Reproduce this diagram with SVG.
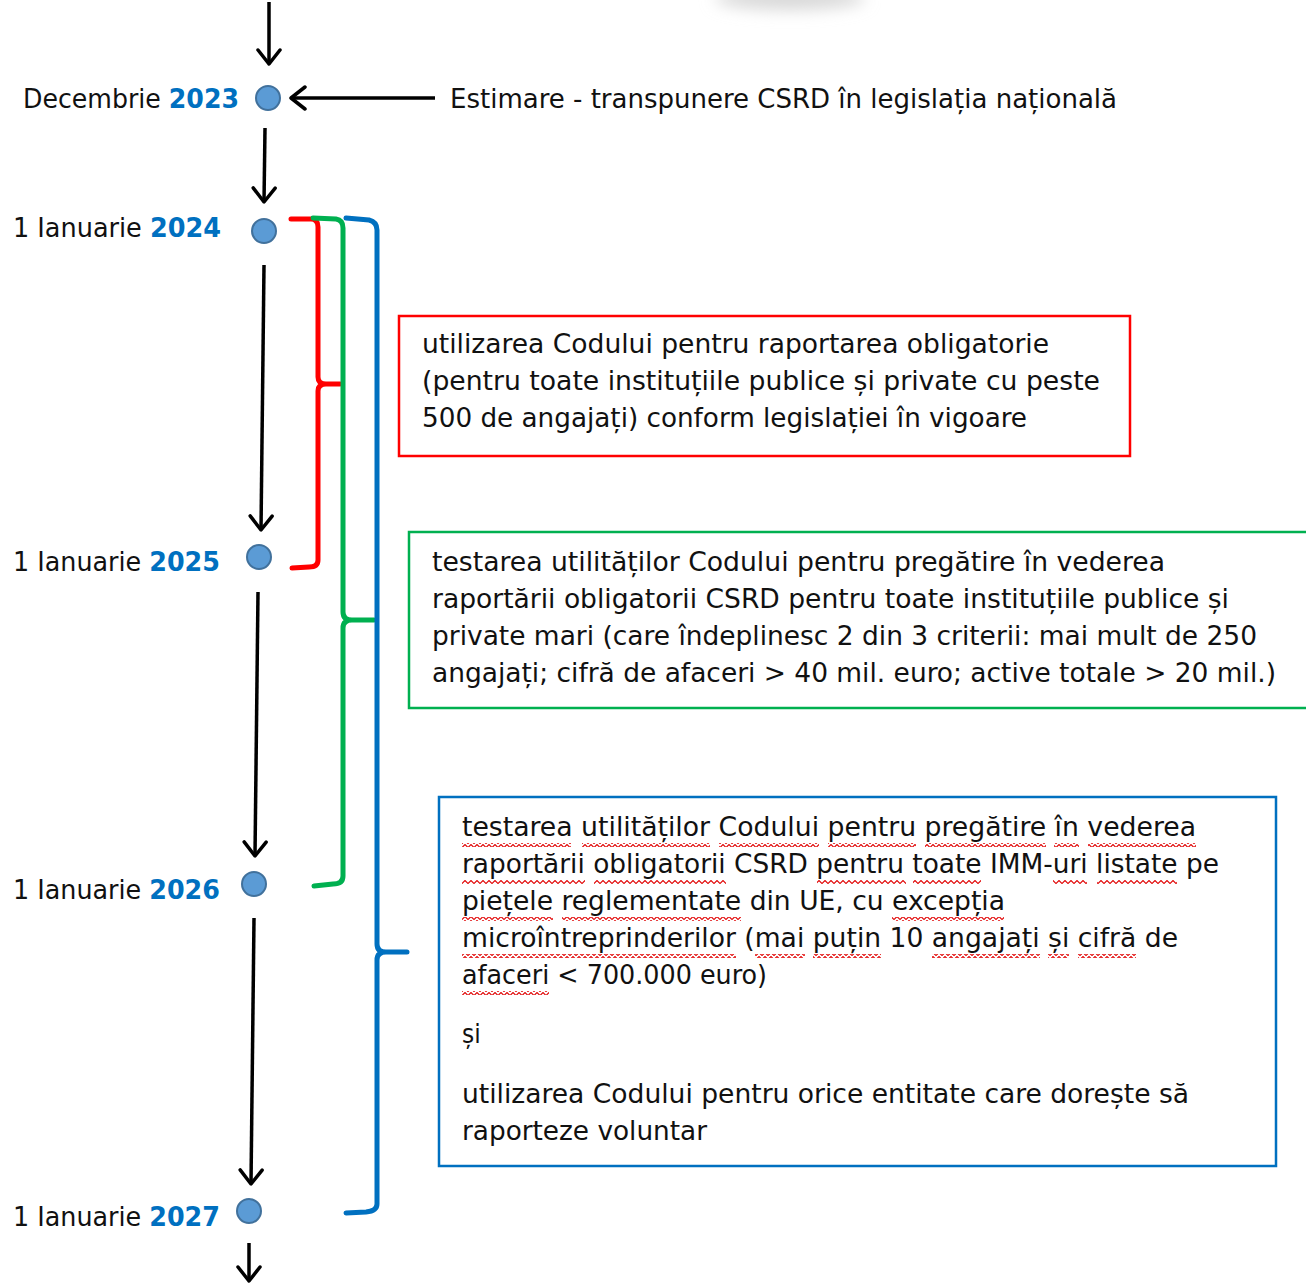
<svg xmlns="http://www.w3.org/2000/svg" width="1306" height="1284" viewBox="0 0 1306 1284">
<style>
text{font-family:"DejaVu Sans Condensed","DejaVu Sans",Tahoma,sans-serif;font-size:26px;fill:#111}
.y{fill:#0070c0;font-weight:bold}
.ar{fill:none;stroke:#000;stroke-width:3.5;marker-end:url(#ah)}
.dot{fill:#5b9bd5;stroke:#41719c;stroke-width:2}
.br{fill:none;stroke-width:5;stroke-linecap:round;stroke-linejoin:round}
.sq{fill:url(#wave)}
</style>
<defs>
<marker id="ah" markerUnits="userSpaceOnUse" markerWidth="30" markerHeight="30" refX="16" refY="12" orient="auto" viewBox="0 0 30 24">
<polyline points="2,1 16,12 2,23" fill="none" stroke="#000" stroke-width="3.5" stroke-linecap="round" stroke-linejoin="round"/>
</marker>
<pattern id="wave" patternUnits="userSpaceOnUse" x="0" y="0" width="6" height="4">
<path d="M-3,0.5 L0,3.5 L3,0.5 L6,3.5 L9,0.5" fill="none" stroke="#e00000" stroke-width="1.1"/>
</pattern>
<filter id="blur" x="-50%" y="-200%" width="200%" height="500%"><feGaussianBlur stdDeviation="8"/></filter>
</defs>
<rect width="1306" height="1284" fill="#fff"/>
<ellipse cx="790" cy="-2" rx="75" ry="12" fill="#d8d8d8" filter="url(#blur)"/>

<g id="connectors">
<path class="ar" d="M269,2 L269,64"/>
<path class="ar" d="M435,98 L291,98"/>
<path class="ar" d="M265,128 L264,202"/>
<path class="ar" d="M264,265 L261,530"/>
<path class="ar" d="M258,592 L255,856"/>
<path class="ar" d="M254,918 L251,1184"/>
<path class="ar" d="M249,1243 L249,1281"/>
<path class="br" stroke="#ff0000" d="M291,219 L311,219 Q318,219 318,227 L318,377 Q318,384 326,384 L340,384 M326,384 Q318,384 318,391 L318,560 Q318,567 309,567 L292,568"/>
<path class="br" stroke="#00b050" d="M313,218 L336,219 Q343,220 343,228 L343,612 Q343,620 352,620 L374,620 M352,620 Q343,620 343,628 L343,876 Q343,884 333,884 L314,886"/>
<path class="br" stroke="#0070c0" d="M346,218 L369,220 Q377,222 377,230 L377,944 Q377,952 386,952 L407,952 M386,952 Q377,952 377,960 L377,1204 Q377,1211 366,1212 L346,1213"/>
</g>

<g id="n2023">
<circle class="dot" cx="268" cy="98" r="12"/>
<text x="23" y="108" textLength="216" lengthAdjust="spacingAndGlyphs">Decembrie <tspan class="y">2023</tspan></text>
</g>
<g id="estimare">
<text x="450" y="108" textLength="667" lengthAdjust="spacingAndGlyphs">Estimare - transpunere CSRD în legislația națională</text>
</g>
<g id="n2024">
<circle class="dot" cx="264" cy="231" r="12"/>
<text x="13" y="237" textLength="208" lengthAdjust="spacingAndGlyphs">1 Ianuarie <tspan class="y">2024</tspan></text>
</g>
<g id="n2025">
<circle class="dot" cx="259" cy="557" r="12"/>
<text x="13" y="571" textLength="207" lengthAdjust="spacingAndGlyphs">1 Ianuarie <tspan class="y">2025</tspan></text>
</g>
<g id="n2026">
<circle class="dot" cx="254" cy="884" r="12"/>
<text x="13" y="899" textLength="207" lengthAdjust="spacingAndGlyphs">1 Ianuarie <tspan class="y">2026</tspan></text>
</g>
<g id="n2027">
<circle class="dot" cx="249" cy="1211" r="12"/>
<text x="13" y="1226" textLength="207" lengthAdjust="spacingAndGlyphs">1 Ianuarie <tspan class="y">2027</tspan></text>
</g>

<g id="box-red">
<rect x="399" y="316" width="731" height="140" fill="#fff" stroke="#ff0000" stroke-width="2.5"/>
<text x="422" y="353" textLength="627" lengthAdjust="spacingAndGlyphs">utilizarea Codului pentru raportarea obligatorie</text>
<text x="422" y="390" textLength="678" lengthAdjust="spacingAndGlyphs">(pentru toate instituțiile publice și private cu peste</text>
<text x="422" y="427" textLength="605" lengthAdjust="spacingAndGlyphs">500 de angajați) conform legislației în vigoare</text>
</g>

<g id="box-green">
<rect x="409" y="532" width="905" height="176" fill="#fff" stroke="#00b050" stroke-width="2.5"/>
<text x="432" y="571" textLength="733" lengthAdjust="spacingAndGlyphs">testarea utilităților Codului pentru pregătire în vederea</text>
<text x="432" y="608" textLength="797" lengthAdjust="spacingAndGlyphs">raportării obligatorii CSRD pentru toate instituțiile publice și</text>
<text x="432" y="645" textLength="825" lengthAdjust="spacingAndGlyphs">private mari (care îndeplinesc 2 din 3 criterii: mai mult de 250</text>
<text x="432" y="682" textLength="844" lengthAdjust="spacingAndGlyphs">angajați; cifră de afaceri &gt; 40 mil. euro; active totale &gt; 20 mil.)</text>
</g>

<g id="box-blue">
<rect x="439" y="797" width="837" height="369" fill="#fff" stroke="#0070c0" stroke-width="2.5"/>
<text x="462" y="836" textLength="734" lengthAdjust="spacingAndGlyphs">testarea utilităților Codului pentru pregătire în vederea</text>
<text x="462" y="873" textLength="757" lengthAdjust="spacingAndGlyphs">raportării obligatorii CSRD pentru toate IMM-uri listate pe</text>
<text x="462" y="910" textLength="543" lengthAdjust="spacingAndGlyphs">piețele reglementate din UE, cu excepția</text>
<text x="462" y="947" textLength="716" lengthAdjust="spacingAndGlyphs">microîntreprinderilor (mai puțin 10 angajați și cifră de</text>
<text x="462" y="984" textLength="305" lengthAdjust="spacingAndGlyphs">afaceri &lt; 700.000 euro)</text>
<text x="462" y="1043">și</text>
<text x="462" y="1103" textLength="727" lengthAdjust="spacingAndGlyphs">utilizarea Codului pentru orice entitate care dorește să</text>
<text x="462" y="1140" textLength="245" lengthAdjust="spacingAndGlyphs">raporteze voluntar</text>
<g id="spellcheck">
<rect class="sq" x="462" y="843" width="109" height="4"/>
<rect class="sq" x="582" y="843" width="128" height="4"/>
<rect class="sq" x="719" y="843" width="100" height="4"/>
<rect class="sq" x="828" y="843" width="88" height="4"/>
<rect class="sq" x="925" y="843" width="121" height="4"/>
<rect class="sq" x="1054" y="843" width="25" height="4"/>
<rect class="sq" x="1088" y="843" width="108" height="4"/>
<rect class="sq" x="462" y="880" width="123" height="4"/>
<rect class="sq" x="594" y="880" width="132" height="4"/>
<rect class="sq" x="817" y="880" width="89" height="4"/>
<rect class="sq" x="913" y="880" width="68" height="4"/>
<rect class="sq" x="1053" y="880" width="34" height="4"/>
<rect class="sq" x="1097" y="880" width="80" height="4"/>
<rect class="sq" x="462" y="917" width="91" height="4"/>
<rect class="sq" x="562" y="917" width="179" height="4"/>
<rect class="sq" x="892" y="917" width="112" height="4"/>
<rect class="sq" x="462" y="954" width="274" height="4"/>
<rect class="sq" x="755" y="954" width="50" height="4"/>
<rect class="sq" x="813" y="954" width="68" height="4"/>
<rect class="sq" x="932" y="954" width="108" height="4"/>
<rect class="sq" x="1048" y="954" width="21" height="4"/>
<rect class="sq" x="1078" y="954" width="58" height="4"/>
<rect class="sq" x="462" y="991" width="87" height="4"/>
</g>
</g>
</svg>
